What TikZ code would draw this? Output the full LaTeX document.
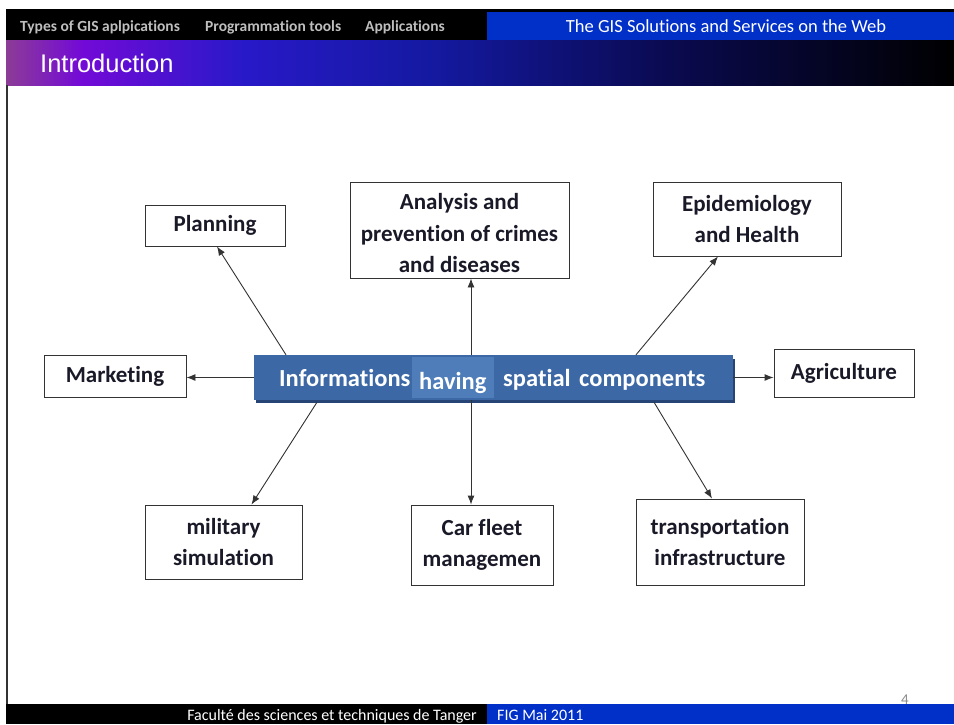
\documentclass[tikz,border=0pt]{standalone}
\usepackage{fontspec}
\setmainfont{Carlito}[Ligatures=NoCommon]
\newfontfamily\arialf{Liberation Sans}
\usetikzlibrary{arrows.meta}
\definecolor{gp1}{RGB}{140,60,150}
\definecolor{gp2}{RGB}{115,10,215}
\definecolor{gp3}{RGB}{40,25,200}
\definecolor{gp4}{RGB}{20,25,160}
\definecolor{gp5}{RGB}{10,10,80}
\definecolor{barblue}{RGB}{0,48,200}
\definecolor{hdrgray}{RGB}{190,190,190}
\definecolor{cblue}{RGB}{60,105,165}
\definecolor{cdark}{RGB}{38,68,118}
\definecolor{clight}{RGB}{78,125,185}
\definecolor{boxtext}{RGB}{25,25,40}
\pgfdeclarehorizontalshading{titlebar}{100bp}{color(0bp)=(gp1); color(25bp)=(gp1); color(29bp)=(gp2); color(37.5bp)=(gp3); color(47.5bp)=(gp4); color(60bp)=(gp5); color(75bp)=(black); color(100bp)=(black)}
\tikzset{
  box/.style={draw=black!80, line width=0.9pt, fill=white, align=center, text=boxtext,
    font=\bfseries\fontsize{23}{31}\selectfont, inner sep=0pt},
  arr/.style={draw=black!80, line width=0.9pt, -{Latex[length=9pt,width=7pt]}},
  hdr/.style={font=\bfseries\fontsize{15.5}{18}\selectfont, text=hdrgray, anchor=base west, inner sep=0pt},
  foot/.style={font=\fontsize{16}{18}\selectfont, text=white, inner sep=0pt},
  ctext/.style={font=\bfseries\fontsize{24.5}{28}\selectfont, text=white, anchor=base west, inner sep=0pt}
}
\begin{document}
\begin{tikzpicture}[x=1pt,y=-1pt]
\useasboundingbox (0,0) rectangle (954,724);
\fill[white] (0,0) rectangle (954,724);
% header
\fill[black] (6,9) rectangle (954,40);
\fill[barblue] (487,12) rectangle (954,40);
\node[hdr] (h1) at (20,31) {Types of GIS aplpications};
\node[hdr] (h2) at (205,31) {Programmation tools};
\node[hdr] (h3) at (365,31) {Applications};
\node[font=\fontsize{18.5}{22}\selectfont, text=white, anchor=base, inner sep=0pt] (h4) at (726,32) {The GIS Solutions and Services on the Web};
% title bar
\shade[shading=titlebar] (6,40) rectangle (954,85);
\node[font=\arialf\fontsize{25.5}{30}\selectfont, text=white, anchor=west, inner sep=0pt] (title) at (40,63) {Introduction};
% left border
\fill[black!80] (6,85) rectangle (8,704);
% footer
\fill[black] (6,704) rectangle (487,724);
\fill[barblue] (487,704) rectangle (954,724);
\node[foot, anchor=base east] (f1) at (477,720) {Facult\'e des sciences et techniques de Tanger};
\node[foot, anchor=base west] (f2) at (497,720) {FIG Mai 2011};
\node[font=\fontsize{15}{18}\selectfont, text=black!45, anchor=base, inner sep=0pt] (pg) at (905,704) {4};
% central node
\fill[cdark] (256,359) rectangle (735,403);
\node[fill=cblue, minimum width=479pt, minimum height=45pt, inner sep=0pt] (c) at (493.5,377.5) {};
\fill[clight] (412,357) rectangle (494,398);
\node[ctext] (t1) at (279,386) {Informations};
\node[ctext] (t2) at (419,389) {having};
\node[ctext] (t3) at (503,386) {spatial};
\node[ctext] (t4) at (579,386) {components};
% boxes
\node[box, minimum width=140pt, minimum height=41pt] (plan) at (215,225.5) {Planning};
\node[box, minimum width=219pt, minimum height=96pt, inner ysep=0pt, text depth=0pt] (ana) at (459.5,230) {\raisebox{-6pt}{\shortstack{Analysis and\\[8.5pt]prevention of crimes\\[8.5pt]and diseases}}};
\node[box, minimum width=188pt, minimum height=74pt] (epi) at (747,219) {Epidemiology\\and Health};
\node[box, minimum width=142pt, minimum height=42pt] (mkt) at (115,376) {Marketing};
\node[box, minimum width=140pt, minimum height=48pt] (agr) at (844,373) {Agriculture};
\node[box, minimum width=157pt, minimum height=74pt] (mil) at (223.5,542) {military\\simulation};
\node[box, minimum width=142pt, minimum height=80pt] (car) at (482,545) {Car fleet\\managemen};
\node[box, minimum width=168pt, minimum height=86pt] (trn) at (720,542) {transportation\\infrastructure};
% connectors
\draw[arr] ([xshift=-207.5pt]c.north) -- ([xshift=2pt]plan.south);
\draw[arr] ([xshift=-22.5pt]c.north) -- ([xshift=11.5pt]ana.south);
\draw[arr] ([xshift=142.5pt]c.north) -- ([xshift=-29pt]epi.south);
\draw[arr] (c.west) -- (c.west -| mkt.east);
\draw[arr] (c.east) -- (c.east -| agr.west);
\draw[arr] ([xshift=-176.5pt,yshift=-2pt]c.south) -- ([xshift=28pt]mil.north);
\draw[arr] ([xshift=-22.5pt]c.south) -- ([xshift=-11pt]car.north);
\draw[arr] ([xshift=160.5pt,yshift=-2pt]c.south) -- ([xshift=-8pt]trn.north);
\end{tikzpicture}
\end{document}
